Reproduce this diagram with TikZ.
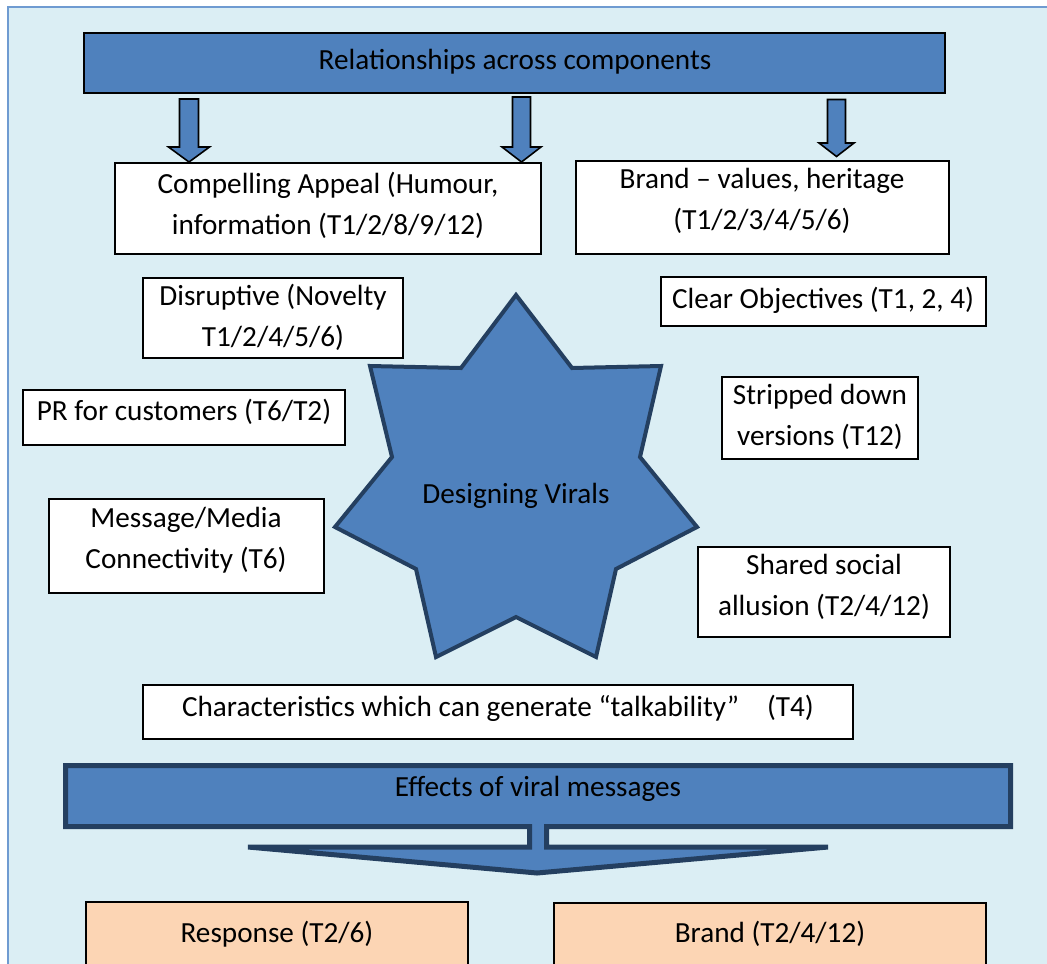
\documentclass[tikz,border=0pt]{standalone}
\usepackage{fontspec}
\setmainfont{Carlito}
\usetikzlibrary{fit}
\definecolor{panel}{HTML}{DBEEF4}
\definecolor{panelline}{HTML}{6F9BD1}
\definecolor{barblue}{HTML}{4F81BD}
\definecolor{navy}{HTML}{243F60}
\definecolor{peach}{HTML}{FCD5B4}

% block arrow pointing down: centre x, top, neck y, tip y, shaft half width, head half width
\newcommand{\blockdown}[6]{%
  \draw[blockarrow] (#1-#5,#2) -- (#1+#5,#2) -- (#1+#5,#3) -- (#1+#6,#3)
    -- (#1,#4) -- (#1-#6,#3) -- (#1-#5,#3) -- cycle;}

\begin{document}
\begin{tikzpicture}[x=0.5pt,y=-0.5pt,
  box/.style={draw=black, line width=1pt, fill=white, inner sep=0pt},
  peachbox/.style={box, fill=peach},
  txt/.style={font=\fontsize{14.6pt}{20.5pt}\selectfont, align=center, inner sep=0pt},
  blockarrow/.style={draw=black, line width=0.8pt, fill=barblue, line join=miter},
  navyshape/.style={draw=navy, fill=barblue, line join=miter},
]
\clip (0,0) rectangle (1047,963);
\fill[panel] (7,7) rectangle (1060,980);
\draw[panelline, line width=1pt] (7.5,1060) -- (7.5,7.5) -- (1060,7.5);

% header bar and its three block arrows
\node[box, fill=barblue, fit={(84,33) (945,93)}] (rel) {};
\node[txt] (rel-t) at (515,62) {Relationships across components};
\blockdown{189}{99}{147}{162}{9.5}{20.5}
\blockdown{521.5}{97}{147}{162}{9}{19.5}
\blockdown{836.5}{99.5}{143}{156.5}{9}{17.5}

% component boxes
\node[box, fit={(115,163) (541,254)}] (compelling) {};
\node[txt] (compelling-t) at (328,205) {Compelling Appeal (Humour,\\information (T1/2/8/9/12)};
\node[box, fit={(576,161) (949,254)}] (brand) {};
\node[txt] (brand-t) at (762,201) {Brand – values, heritage\\(T1/2/3/4/5/6)};
\node[box, fit={(143,278) (403,358)}] (disruptive) {};
\node[txt] (disruptive-t) at (273,317) {Disruptive (Novelty\\T1/2/4/5/6)};
\node[box, fit={(661,277) (986,326)}] (clear) {};
\node[txt] (clear-t) at (823,300) {Clear Objectives (T1, 2, 4)};
\node[box, fit={(23,390) (345,445)}] (pr) {};
\node[txt] (pr-t) at (184,412) {PR for customers (T6/T2)};
\node[box, fit={(722,377) (918,459)}] (stripped) {};
\node[txt] (stripped-t) at (820,417) {Stripped down\\versions (T12)};
\node[box, fit={(49,499) (324,593)}] (message) {};
\node[txt] (message-t) at (186,540) {Message/Media\\Connectivity (T6)};
\node[box, fit={(698,547) (950,637)}] (shared) {};
\node[txt] (shared-t) at (824,587) {Shared social\\allusion (T2/4/12)};

% central star
\draw[navyshape, line width=2pt] (516,295) -- (572,368) -- (661,366) -- (640,457)
  -- (697,527) -- (616,569) -- (596,657) -- (516,617) -- (436,657) -- (416,569)
  -- (335,527) -- (392,457) -- (370,366) -- (461,368) -- cycle;
\node[txt] (star) at (516,496) {Designing Virals};

\node[box, fit={(143,685) (853,739)}] (chars) {};
\node[txt] (chars-t) at (498,708) {Characteristics which can generate “talkability”\hspace{14pt}(T4)};

% effects callout with its down arrow
\draw[navyshape, line width=2.5pt] (65.5,765.5) -- (1010.5,765.5) -- (1010.5,826.5)
  -- (546.5,826.5) -- (546.5,847) -- (828,847) -- (537,873) -- (248,847)
  -- (529.5,847) -- (529.5,826.5) -- (65.5,826.5) -- cycle;
\node[txt] (effects) at (538,789) {Effects of viral messages};

% effect boxes
\node[peachbox, fit={(86,902) (468,1000)}] (response) {};
\node[txt] (response-t) at (277,934) {Response (T2/6)};
\node[peachbox, fit={(554,903) (986,1000)}] (brand2) {};
\node[txt] (brand2-t) at (770,934) {Brand (T2/4/12)};
\end{tikzpicture}
\end{document}
